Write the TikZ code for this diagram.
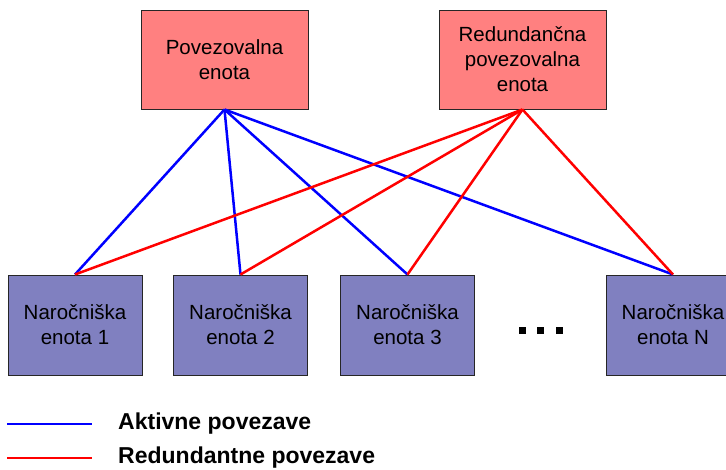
\documentclass[tikz,border=0pt]{standalone}
\usepackage{fontspec}
\setmainfont{Liberation Sans}
\begin{document}
\begin{tikzpicture}[x=1pt,y=-1pt,
  unit/.style={draw=black!85, line width=1pt, inner sep=0pt, align=center,
    font=\fontsize{20.5}{25}\selectfont},
  hub/.style={unit, fill=hubred, minimum width=167pt, minimum height=99pt},
  client/.style={unit, fill=clientblue, minimum width=134pt, minimum height=100pt},
  active/.style={draw=linkblue, line width=2.5pt},
  backup/.style={draw=linkred, line width=2.5pt},
  dot/.style={fill=black, inner sep=0pt, minimum size=7pt},
  legend/.style={anchor=west, inner sep=0pt, font=\fontsize{23}{26}\selectfont\bfseries}]
\definecolor{hubred}{HTML}{FF8080}
\definecolor{clientblue}{HTML}{8080C0}
\definecolor{linkblue}{HTML}{0000FF}
\definecolor{linkred}{HTML}{FF0000}
\useasboundingbox[fill=white] (0,0) rectangle (726,469);
\clip (0,0) rectangle (726,469);

% interconnection units
\node[hub] (main) at (224.5,59.5) {Povezovalna\\enota};
\node[hub] (red) at (522.5,59.5) {Redundančna\\povezovalna\\enota};

% subscriber units
\node[client] (c1) at (75,325) {Naročniška\\enota 1};
\node[client] (c2) at (240.5,325) {Naročniška\\enota 2};
\node[client] (c3) at (407.5,325) {Naročniška\\enota 3};
\node[client] (cN) at (673,325) {Naročniška\\enota N};

% ellipsis between unit 3 and unit N
\node[dot] (d1) at (522,330) {};
\node[dot] (d2) at (540.5,330) {};
\node[dot] (d3) at (559,330) {};

% active links
\foreach \c in {c1,c2,c3,cN} \draw[active] (main.south) -- (\c.north);
% redundant links
\foreach \c in {c1,c2,c3,cN} \draw[backup] (red.south) -- (\c.north);

% legend
\coordinate (la1) at (7,424);
\coordinate (la2) at (92,424);
\coordinate (lr1) at (7,458);
\coordinate (lr2) at (92,458);
\draw[active] (la1) -- (la2);
\draw[backup] (lr1) -- (lr2);
\node[legend] (ta) at (118,424) {Aktivne povezave};
\node[legend] (tr) at (118,458) {Redundantne povezave};
\end{tikzpicture}
\end{document}
